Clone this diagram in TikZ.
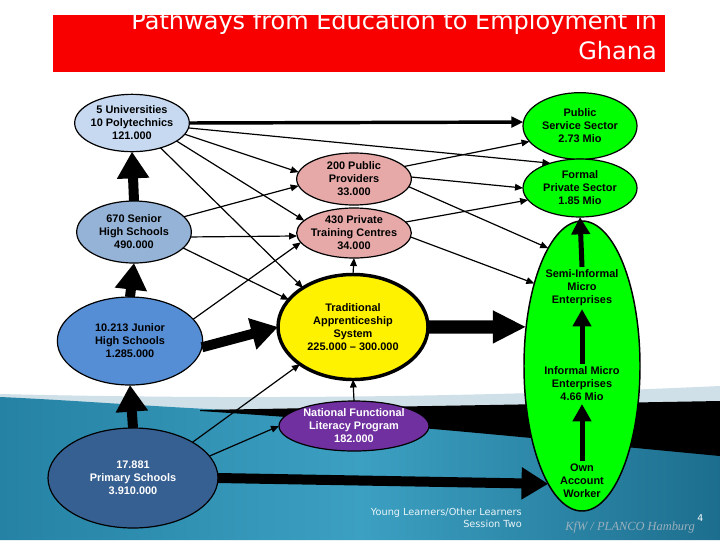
\documentclass[tikz,border=0pt]{standalone}
\usepackage{fontspec}
\setmainfont{Liberation Sans}
\newfontfamily\headfont{DejaVu Sans}
\newfontfamily\kfwfont{Liberation Serif}
\usepackage{tikz}
\usetikzlibrary{positioning, arrows.meta, shapes.geometric, calc}
\usepackage{xcolor}
\definecolor{titlered}{HTML}{F80000}
\definecolor{uniblue}{HTML}{C6D9F1}
\definecolor{shsblue}{HTML}{95B3D7}
\definecolor{jhsblue}{HTML}{558ED5}
\definecolor{primblue}{HTML}{376092}
\definecolor{provpink}{HTML}{E6A9A8}
\definecolor{litpurple}{HTML}{7030A0}
\definecolor{jobgreen}{HTML}{00FF00}
\definecolor{wavelight}{HTML}{CFE0E8}
\definecolor{tealmid}{HTML}{2582A4}
\definecolor{teallight}{HTML}{3CA0C2}
\definecolor{tealdark}{HTML}{1D6E8E}
\definecolor{footgrey}{HTML}{9AB0BD}
\tikzset{
    oval/.style={
        ellipse, draw=black, line width=0.9pt,
        inner sep=0pt, outer sep=0pt
    },
    intext/.style={
        font=\fontsize{8.2}{9.8}\selectfont\bfseries,
        align=center, inner sep=2pt
    },
    titletxt/.style={
        font=\headfont\fontsize{18}{21}\selectfont,
        text=white, inner sep=0pt
    },
    foottxt/.style={
        font=\headfont\fontsize{7.3}{9}\selectfont,
        text=white!88!teallight, inner sep=0pt
    },
    flow/.style={
        line width=0.9pt, -{Triangle[length=6pt,width=5pt]}
    },
    mainflow/.style={
        line width=2.6pt, -{Triangle[length=9pt,width=8pt]}
    },
    blockflow/.style={
        line width=7.5pt, -{Triangle[length=20pt,width=23pt]}
    },
    innerflow/.style={
        line width=3.75pt, -{Triangle[length=13pt,width=13.5pt]}
    }
}

\begin{document}
\begin{tikzpicture}[x=0.75pt, y=-0.75pt]
\useasboundingbox (0,0) rectangle (720,540);

% slide background
\fill[white] (0,0) rectangle (720,540);
\fill[wavelight] (0,394) .. controls (250,400) and (480,397) .. (720,386) -- (720,410) -- (200,412) -- (0,399) -- cycle;
\shade[left color=tealmid, right color=tealdark, middle color=teallight]
    (0,397) .. controls (90,401) and (180,409) .. (280,412) -- (720,402) -- (720,540) -- (0,540) -- cycle;
\fill[black] (200,410) -- (720,401) -- (720,456) .. controls (560,441) and (400,424) .. (200,411) -- cycle;

% title bar
\fill[titlered] (53,15) rectangle (665,72);
\node[titletxt, anchor=base east] (title1) at (657,29) {Pathways from Education to Employment in};
\node[titletxt, anchor=base east] (title2) at (657,59) {Ghana};

% education
\node[oval, fill=uniblue, minimum width=86pt, minimum height=43pt,
      label={[intext]center:{5 Universities\\10 Polytechnics\\121.000}}] (univ) at (132,123) {};
\node[oval, fill=shsblue, minimum width=86pt, minimum height=46.5pt,
      label={[intext]center:{670 Senior\\High Schools\\490.000}}] (senior) at (134,232) {};
\node[oval, fill=jhsblue, minimum width=109pt, minimum height=66pt,
      label={[intext]center:{10.213 Junior\\High Schools\\1.285.000}}] (junior) at (130,341) {};
\node[oval, fill=primblue, minimum width=127.5pt, minimum height=75pt,
      label={[intext, text=white]center:{17.881\\Primary Schools\\3.910.000}}] (primary) at (133,478) {};

% training
\node[oval, fill=provpink, minimum width=86pt, minimum height=39pt,
      label={[intext]center:{200 Public\\Providers\\33.000}}] (pubprov) at (354,179) {};
\node[oval, fill=provpink, minimum width=86pt, minimum height=37.5pt,
      label={[intext]center:{430 Private\\Training Centres\\34.000}}] (privtrain) at (354,233) {};
\node[oval, fill=yellow, line width=2.6pt, minimum width=112.5pt, minimum height=78.75pt,
      label={[intext]center:{Traditional\\Apprenticeship\\System\\225.000 -- 300.000}}] (apprent) at (353,327) {};
\node[oval, fill=litpurple, minimum width=112.5pt, minimum height=37.5pt,
      label={[intext, text=white]center:{National Functional\\Literacy Program\\182.000}}] (literacy) at (354,426) {};

% employment
\node[oval, fill=jobgreen, minimum width=85.5pt, minimum height=50pt,
      label={[intext]center:{Public\\Service Sector\\2.73 Mio}}] (pubsec) at (580,126) {};
\node[oval, fill=jobgreen, minimum width=85.5pt, minimum height=43.5pt,
      label={[intext]center:{Formal\\Private Sector\\1.85 Mio}}] (formal) at (580,188) {};
\node[oval, fill=jobgreen, line width=1.1pt, minimum width=87pt, minimum height=217.5pt] (infsec) at (582,366) {};
\node[intext] (semi) at (582,288) {Semi-Informal\\Micro\\Enterprises};
\node[intext] (micro) at (582,384) {Informal Micro\\Enterprises\\4.66 Mio};
\node[intext] (ownacc) at (582,481) {Own\\Account\\Worker};

% from the universities
\draw[mainflow] (univ.0) -- (pubsec.176);
\draw[flow] (univ.-5) -- (formal.140);
\draw[flow] (univ.-12) -- (pubprov.173);
\draw[flow] (univ.-22) -- (privtrain.166);
\draw[flow] (univ.-41) -- (apprent.142);

% from the senior high schools
\draw[blockflow] (senior.north) -- (univ.south);
\draw[flow] (senior.17) -- (pubprov.187);
\draw[flow] (senior.-5) -- (privtrain.183);
\draw[flow] (senior.-18) -- (apprent.157);

% from the junior high schools
\draw[blockflow] (junior.north) -- (senior.south);
\draw[blockflow] (junior.-5) -- (apprent.180);
\draw[flow] (junior.19) -- (privtrain.190);

% from the primary schools
\draw[blockflow] (primary.north) -- (junior.south);
\draw[flow] (primary.31) -- (apprent.215);
\draw[flow] (primary.16) -- (literacy.180);
\draw[blockflow] (primary.0) -- (infsec.254);

% training to work
\draw[flow] (literacy.north) -- (apprent.south);
\draw[flow] (apprent.north) -- (privtrain.south);
\draw[blockflow, line width=10pt, -{Triangle[length=25pt,width=23pt]}] (apprent.0) -- (infsec.145);
\draw[flow] (pubprov.14) -- (pubsec.197);
\draw[flow] (pubprov.2) -- (formal.180);
\draw[flow] (pubprov.-8) -- (infsec.106);
\draw[flow] (privtrain.12) -- (formal.193);
\draw[flow] (privtrain.-4) -- (infsec.120);

% inside the informal sector
\draw[innerflow] (ownacc.north) -- (micro.south);
\draw[innerflow] (micro.north) -- (semi.south);
\draw[innerflow] (semi.north) -- (formal.south);

% footer
\node[foottxt, anchor=base east] (foot1) at (522,515) {Young Learners/Other Learners};
\node[foottxt, anchor=base east] (foot2) at (522,527) {Session Two};
\node[font=\kfwfont\itshape\fontsize{9.3}{10}\selectfont, text=footgrey, inner sep=0pt, anchor=base east] (kfw) at (695,530) {KfW / PLANCO Hamburg};
\node[font=\headfont\fontsize{7}{8}\selectfont, text=white, inner sep=0pt, anchor=base west] (pagenum) at (697,521) {4};
\end{tikzpicture}
\end{document}
